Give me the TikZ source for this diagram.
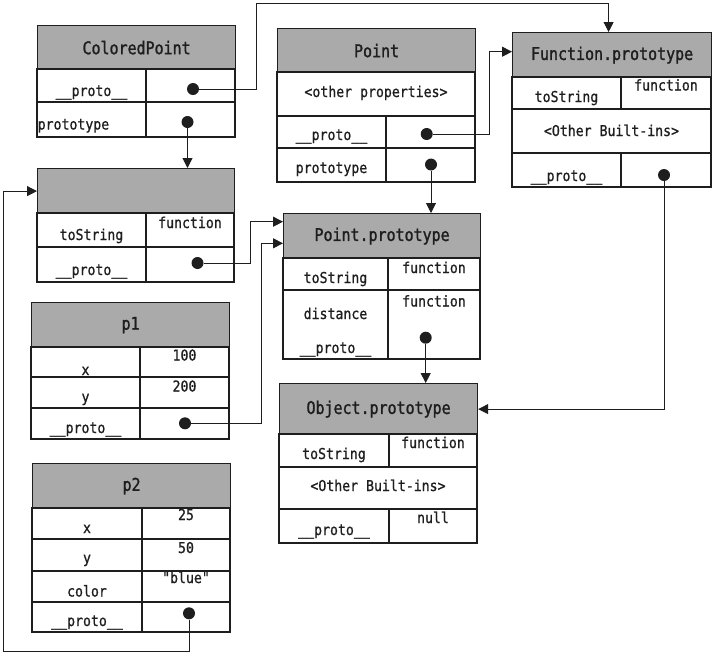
\documentclass[tikz,border=0pt]{standalone}
\usepackage{fontspec}
\newfontfamily\monof[FakeStretch=0.88,FakeBold=0.8]{DejaVu Sans Mono}
\newfontfamily\hdrf[FakeStretch=0.855,FakeBold=1.4]{DejaVu Sans Mono}
\usetikzlibrary{arrows.meta}
\definecolor{hdrgray}{RGB}{170,170,170}
\definecolor{ink}{RGB}{30,30,30}
\tikzset{
  boxline/.style={draw=ink, line width=1.2pt},
  hdr/.style={boxline, fill=hdrgray, anchor=north west, inner sep=0pt, text=ink,
    font=\hdrf\fontsize{17.5}{20}\selectfont},
  txt/.style={anchor=base, inner sep=0pt, text=ink, font=\monof\fontsize{15}{18}\selectfont},
  ltxt/.style={txt, anchor=base west},
  ptrdot/.style={circle, fill=ink, inner sep=0pt, minimum size=12pt},
  link/.style={draw=ink, line width=1pt, -{Triangle[length=10pt,width=10pt]}},
}
\begin{document}
\begin{tikzpicture}[x=1pt,y=-1pt]
\fill[white] (0,0) rectangle (713,654);
\useasboundingbox (0,0) rectangle (713,654);

% ColoredPoint
\node[hdr, minimum width=198pt, minimum height=44pt] (cp) at (37,25) {ColoredPoint};
\draw[boxline] (37,69) rectangle (235,102) (37,102) rectangle (235,137) (146,69) -- (146,137);
\node[txt] (cpk1) at (91.5,96) {\_\_proto\_\_};
\node[ptrdot] (cpd1) at (193,89) {};
\node[ltxt] (cpk2) at (37.5,129.5) {prototype};
\node[ptrdot] (cpd2) at (187.5,122) {};

% ColoredPoint.prototype (unnamed)
\node[hdr, minimum width=197pt, minimum height=45pt] (cpp) at (37,168) {};
\draw[boxline] (37,213) rectangle (234,247) (37,247) rectangle (234,282) (146,213) -- (146,282);
\node[txt] (cppk1) at (91.5,240) {toString};
\node[txt] (cppv1) at (190,228) {function};
\node[txt] (cppk2) at (91.5,275) {\_\_proto\_\_};
\node[ptrdot] (cppd) at (197.5,263) {};

% Point
\node[hdr, minimum width=198pt, minimum height=44pt] (pt) at (277,28) {Point};
\draw[boxline] (277,72) rectangle (475,116) (277,116) rectangle (475,148) (277,148) rectangle (475,182) (386,116) -- (386,182);
\node[txt] (ptother) at (376,97) {<other properties>};
\node[txt] (ptk2) at (331.5,140) {\_\_proto\_\_};
\node[ptrdot] (ptd1) at (426.7,134) {};
\node[txt] (ptk3) at (331.5,173) {prototype};
\node[ptrdot] (ptd2) at (431,164.5) {};

% Function.prototype
\node[hdr, minimum width=199pt, minimum height=45pt] (fp) at (512,32) {Function.prototype};
\draw[boxline] (512,77) rectangle (711,109) (512,109) rectangle (711,153) (512,153) rectangle (711,187) (621,77) -- (621,109) (621,153) -- (621,187);
\node[txt] (fpk1) at (566.5,102) {toString};
\node[txt] (fpv1) at (666,90.5) {function};
\node[txt] (fpother) at (611.5,136) {<Other Built-ins>};
\node[txt] (fpk3) at (566.5,181) {\_\_proto\_\_};
\node[ptrdot] (fpd) at (664,175) {};

% Point.prototype
\node[hdr, minimum width=197pt, minimum height=45pt] (pp) at (283,213) {Point.prototype};
\draw[boxline] (283,258) rectangle (480,290) (283,290) rectangle (480,359) (388,258) -- (388,359);
\node[txt] (ppk1) at (335.5,283) {toString};
\node[txt] (ppv1) at (434,273) {function};
\node[txt] (ppk2) at (335.5,319) {distance};
\node[txt] (ppv2) at (434,306.5) {function};
\node[txt] (ppk3) at (335.5,353) {\_\_proto\_\_};
\node[ptrdot] (ppd) at (425.7,337.7) {};

% Object.prototype
\node[hdr, minimum width=198pt, minimum height=51pt] (op) at (279,383) {Object.prototype};
\draw[boxline] (279,434) rectangle (477,467) (279,467) rectangle (477,509) (279,509) rectangle (477,543) (389,434) -- (389,467) (389,509) -- (389,543);
\node[txt] (opk1) at (334,459) {toString};
\node[txt] (opv1) at (433,448) {function};
\node[txt] (opother) at (378,491) {<Other Built-ins>};
\node[txt] (opk3) at (334,535) {\_\_proto\_\_};
\node[txt] (opv3) at (433,523) {null};

% p1
\node[hdr, minimum width=198pt, minimum height=45pt] (p1) at (31,302) {p1};
\draw[boxline] (31,347) rectangle (229,377) (31,377) rectangle (229,408) (31,408) rectangle (229,439) (140,347) -- (140,439);
\node[txt] (p1k1) at (85.5,375) {x};
\node[txt] (p1v1) at (184.5,360.5) {100};
\node[txt] (p1k2) at (85.5,402) {y};
\node[txt] (p1v2) at (184.5,391.5) {200};
\node[txt] (p1k3) at (85.5,433) {\_\_proto\_\_};
\node[ptrdot] (p1d) at (185,423.3) {};

% p2
\node[hdr, minimum width=198pt, minimum height=45pt] (p2) at (32,463) {p2};
\draw[boxline] (32,508) rectangle (230,539) (32,539) rectangle (230,571) (32,571) rectangle (230,602) (32,602) rectangle (230,632) (142,508) -- (142,632);
\node[txt] (p2k1) at (87,533) {x};
\node[txt] (p2v1) at (186,520) {25};
\node[txt] (p2k2) at (87,563) {y};
\node[txt] (p2v2) at (186,553) {50};
\node[txt] (p2k3) at (87,596.5) {color};
\node[txt] (p2v3) at (186,583) {"blue"};
\node[txt] (p2k4) at (87,626) {\_\_proto\_\_};
\node[ptrdot] (p2d) at (189,613.3) {};

% connectors
\coordinate (b1) at (256,3.3);
\draw[link] (cpd1.east) -| (b1) -| ([xshift=-3.5pt]fp.north);
\draw[link] (cpd2.south) -- (cpd2.south |- cpp.north);
\coordinate (b3) at (3,651.7);
\draw[link] (p2d.south) |- (b3) |- (cpp.west);
\coordinate (b4) at (250,221.7);
\draw[link] (cppd.east) -| (b4) -- (b4 -| pp.west);
\coordinate (b5) at (261.7,243.3);
\draw[link] (p1d.east) -| (b5) -- (b5 -| pp.west);
\coordinate (b6) at (489.3,51.7);
\draw[link] (ptd1.east) -| (b6) -- (b6 -| fp.west);
\draw[link] (ptd2.south) -- (ptd2.south |- pp.north);
\draw[link] (ppd.south) -- (ppd.south |- op.north);
\draw[link] (fpd.south) |- (op.east);
\end{tikzpicture}
\end{document}
